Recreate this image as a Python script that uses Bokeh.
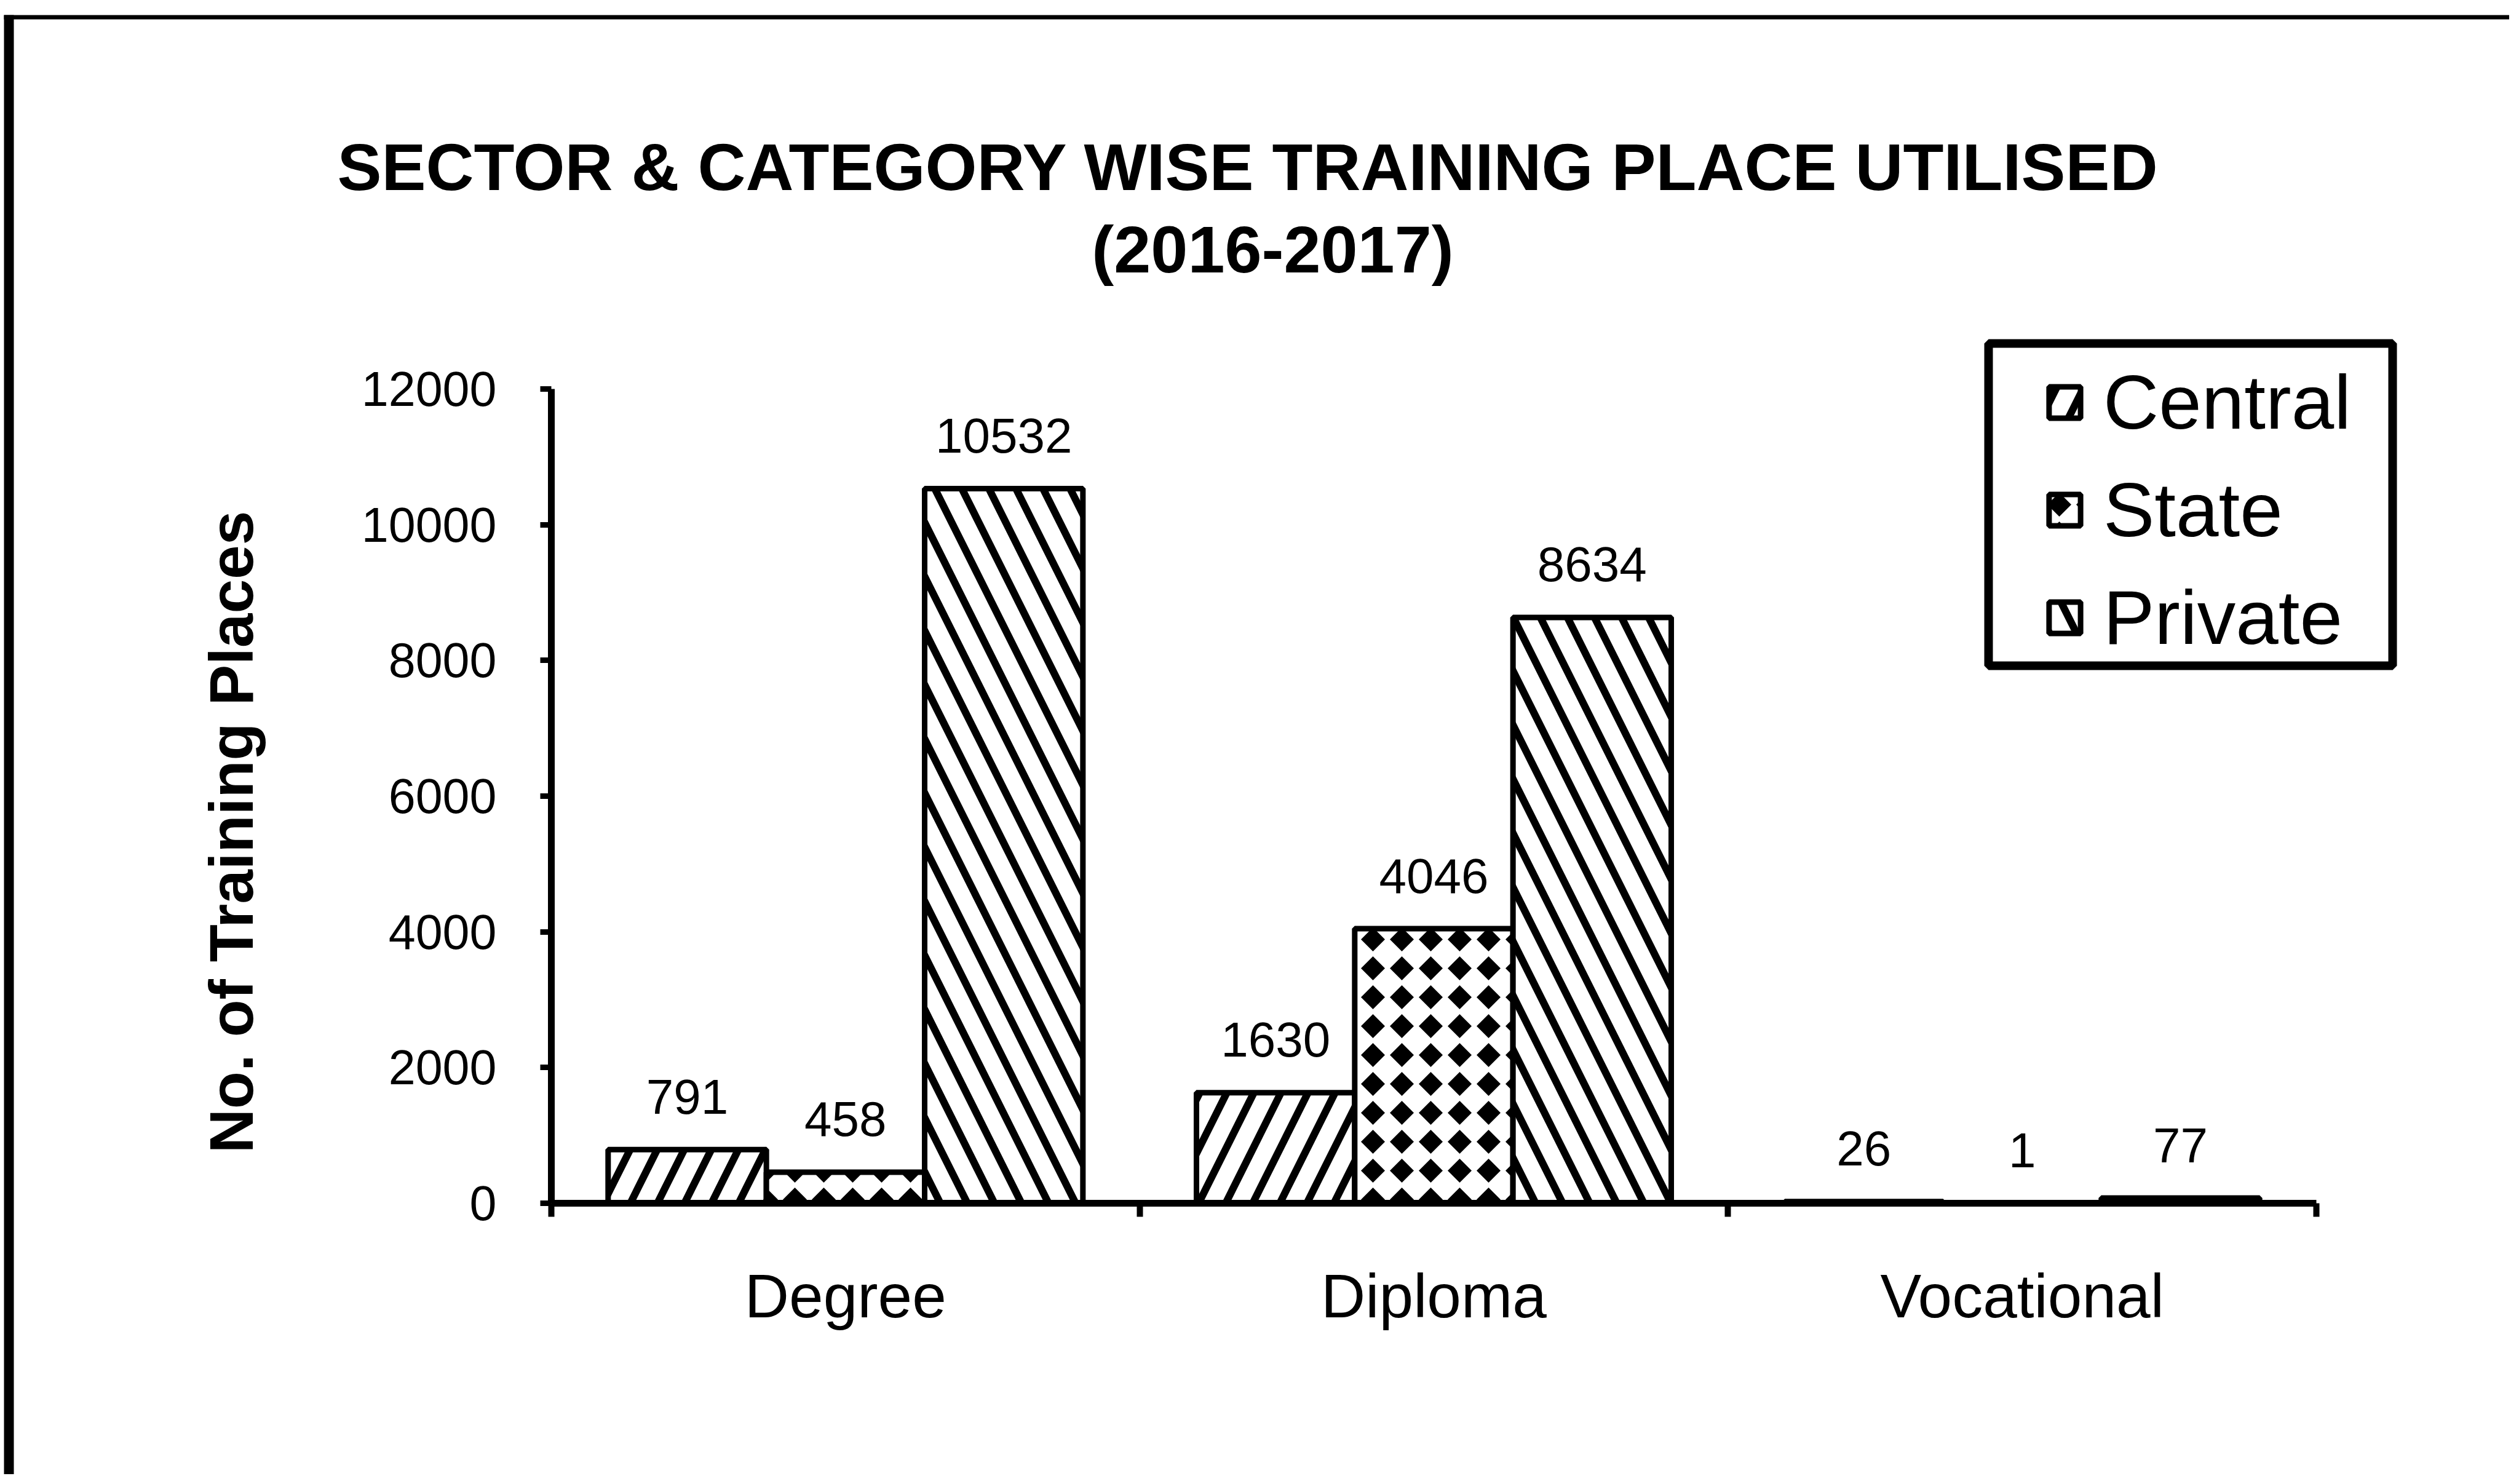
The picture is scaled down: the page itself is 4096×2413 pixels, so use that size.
import base64
from bokeh.plotting import figure
from bokeh.models import (ColumnDataSource, FixedTicker, LabelSet, Label,
                          BoxAnnotation, Range1d, ImageURLTexture)
from bokeh.core.properties import value
from bokeh.embed import file_html
from bokeh.resources import INLINE

try:
    from bokeh.models import HTMLLabel
except ImportError:
    HTMLLabel = None

# ---------------- data ----------------
categories = ["Degree", "Diploma", "Vocational"]
sectors = ["Central", "State", "Private"]
central = [791, 1630, 26]
state = [458, 4046, 1]
private = [10532, 8634, 77]
y_ticks = [0, 2000, 4000, 6000, 8000, 10000, 12000]
title_line1 = "SECTOR & CATEGORY WISE TRAINING PLACE UTILISED"
title_line2 = "(2016-2017)"
y_axis_title = "No. of Training Places"

# ---------------- layout (pixels of the canvas) ----------------
W, H = 4080, 2397
PL, PR, PT, PB = 896, 3766, 632, 1956      # plot area (axes box) in canvas px
YMAX = y_ticks[-1]
NCAT = len(categories)

def px_x(px):
    """canvas pixel x -> data x"""
    return (px - PL) / (PR - PL) * NCAT

def px_y(py):
    """canvas pixel y (from top) -> data y"""
    return (PB - py) / (PB - PT) * YMAX

# the frame covers the whole canvas, axes are pinned at x=0 / y=0
p = figure(width=W, height=H, output_backend="svg", toolbar_location=None,
           x_range=Range1d(px_x(0), px_x(W)), y_range=Range1d(px_y(H), px_y(0)),
           min_border_left=0, min_border_right=0, min_border_top=0,
           min_border_bottom=0)
p.outline_line_color = None
p.xgrid.visible = False
p.ygrid.visible = False
p.background_fill_color = "white"
p.border_fill_color = "white"

FONT = "Liberation Sans"

# diamond texture for "State"
svg = ("<svg xmlns='http://www.w3.org/2000/svg' width='47' height='47'>"
       "<rect width='47' height='47' fill='white'/>"
       "<polygon points='23.5,4 43,23.5 23.5,43 4,23.5' fill='black'/></svg>")
diamond_url = "data:image/svg+xml;base64," + base64.b64encode(svg.encode()).decode()
diamond = ImageURLTexture(url=diamond_url)

bar_w = 0.269
offsets = [-bar_w, 0.0, bar_w]
patterns = ["/", "diamonds", "\\"]
series = [central, state, private]

for i, (name, vals) in enumerate(zip(sectors, series)):
    src = ColumnDataSource(dict(
        x=[j + 0.5 + offsets[i] for j in range(NCAT)],
        top=vals,
        label=[str(v) for v in vals],
    ))
    kw = dict(hatch_pattern=value(patterns[i]), hatch_color="black",
              hatch_scale=88, hatch_weight=12)
    if patterns[i] == "diamonds":
        kw["hatch_extra"] = {"diamonds": diamond}
    p.vbar(x="x", top="top", bottom=0, width=bar_w, source=src,
           fill_color="white", line_color="black", line_width=9,
           legend_label=name, **kw)
    p.add_layout(LabelSet(x="x", y="top", text="label", source=src,
                          y_offset=86, text_align="center",
                          text_baseline="middle",
                          text_font=value(FONT), text_font_size="80px",
                          text_color="black"))

# ---------------- axes ----------------
xa = p.xaxis[0]
xa.fixed_location = 0
xa.bounds = (0, NCAT)
xa.ticker = FixedTicker(ticks=[j + 0.5 for j in range(NCAT)],
                        minor_ticks=list(range(NCAT + 1)))
xa.major_label_overrides = {j + 0.5: c for j, c in enumerate(categories)}
xa.axis_line_width = 11
xa.axis_line_color = "black"
xa.major_tick_line_color = None
xa.major_tick_out = 0
xa.major_tick_in = 0
xa.minor_tick_out = 22
xa.minor_tick_in = 0
xa.minor_tick_line_width = 10
xa.minor_tick_line_color = "black"
xa.major_label_text_font = FONT
xa.major_label_text_font_size = "100px"
xa.major_label_text_color = "black"
xa.major_label_standoff = 72

ya = p.yaxis[0]
ya.fixed_location = 0
ya.bounds = (0, YMAX)
ya.ticker = FixedTicker(ticks=y_ticks, minor_ticks=[])
ya.axis_line_width = 11
ya.axis_line_color = "black"
ya.major_tick_out = 18
ya.major_tick_in = 0
ya.major_tick_line_width = 9
ya.major_tick_line_color = "black"
ya.minor_tick_line_color = None
ya.major_label_text_font = FONT
ya.major_label_text_font_size = "79px"
ya.major_label_text_color = "black"
ya.major_label_standoff = 71

# ---------------- texts ----------------
p.add_layout(Label(x=px_x(2029), y=px_y(271),
                   text=title_line1, text_font=FONT, text_font_style="bold",
                   text_font_size="108px", text_align="center",
                   text_baseline="middle", text_color="black"))
p.add_layout(Label(x=px_x(2069), y=px_y(405),
                   text=title_line2, text_font=FONT, text_font_style="bold",
                   text_font_size="108px", text_align="center",
                   text_baseline="middle", text_color="black"))
if HTMLLabel is not None:
    p.add_layout(HTMLLabel(x=px_x(376), y=px_y(1353),
                           text=y_axis_title, text_font=FONT,
                           text_font_style="bold", text_font_size="100px",
                           text_align="center", text_baseline="middle",
                           angle=90, angle_units="deg", text_color="black"))
else:
    p.add_layout(Label(x=px_x(60), y=px_y(1353),
                       text=y_axis_title, text_font=FONT,
                       text_font_style="bold", text_font_size="60px",
                       text_align="left", text_baseline="middle",
                       text_color="black"))

# ---------------- outer border (left and top lines) ----------------
for l, r, t, b in [(6, 22, 24, H), (6, W, 24, 31)]:
    p.add_layout(BoxAnnotation(left=px_x(l), right=px_x(r),
                               top=px_y(t), bottom=px_y(b),
                               fill_color="black", fill_alpha=1,
                               line_color=None))

# ---------------- legend ----------------
leg = p.legend[0]
leg.location = (3325, 1322)
leg.border_line_color = None
leg.background_fill_alpha = 0
leg.padding = 0
leg.margin = 0
leg.spacing = 32
leg.glyph_width = 64
leg.glyph_height = 64
leg.label_height = 64
leg.label_standoff = 31
leg.label_text_font = FONT
leg.label_text_font_size = "125px"
leg.label_text_color = "black"

p.add_layout(BoxAnnotation(left=px_x(3233), right=px_x(3890),
                           top=px_y(558), bottom=px_y(1082),
                           fill_alpha=0, line_color="black", line_alpha=1,
                           line_width=14))

open("out.html", "w").write(file_html(p, INLINE))
